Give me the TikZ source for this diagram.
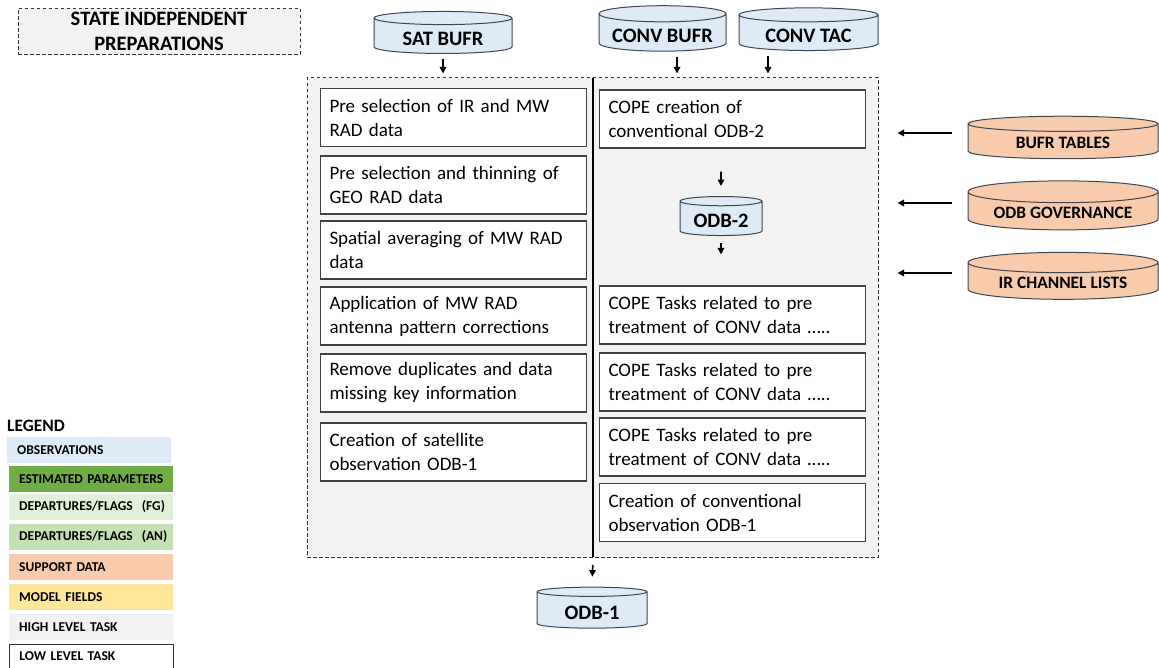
\documentclass[tikz,border=0pt]{standalone}
\usepackage{fontspec}
\setmainfont{Carlito}
\usetikzlibrary{shapes.geometric,arrows.meta}
\definecolor{obsblue}{HTML}{DEEBF7}
\definecolor{estgreen}{HTML}{70AD47}
\definecolor{fggreen}{HTML}{E2F0D9}
\definecolor{angreen}{HTML}{C5E0B4}
\definecolor{supporange}{HTML}{F8CBAD}
\definecolor{modyellow}{HTML}{FFE699}
\definecolor{highgray}{HTML}{F2F2F2}
\definecolor{dbline}{HTML}{3F4650}
\tikzset{
    frame/.style={draw=black!80, fill=highgray, line width=1pt, dash pattern=on 3.5pt off 2.5pt},
    task/.style={draw=black!75, fill=white, line width=1.2pt, minimum width=266pt, minimum height=58pt,
        text width=248pt, inner xsep=9pt, align=left, font=\fontsize{19}{24}\selectfont},
    db/.style={cylinder, shape border rotate=90, aspect=0.15, draw=dbline, line width=1pt,
        text height=16.7pt, text depth=0pt, font=\bfseries\fontsize{20.5}{24}\selectfont},
    support/.style={db, fill=supporange, minimum width=190pt, minimum height=42.5pt,
        text height=12pt, font=\bfseries\fontsize{17.4}{20}\selectfont},
    arr/.style={-{Triangle[length=6.5pt,width=6.5pt]}, line width=1.7pt},
    legbox/.style={anchor=west, minimum width=164pt, minimum height=26pt, text width=144pt,
        inner xsep=10pt, align=left, font=\bfseries\fontsize{13.5}{15}\selectfont},
}
\begin{document}
\begin{tikzpicture}[x=1pt, y=-1pt]
    \useasboundingbox (0, 0) rectangle (1159, 668);
        % headers and frame
        \node[frame, minimum width=282pt, minimum height=46pt, align=center,
            font=\bfseries\fontsize{20.5}{25}\selectfont] (title) at (159, 31.5) {STATE INDEPENDENT\\PREPARATIONS};
        \node[frame, minimum width=571pt, minimum height=479pt] (frame) at (592.5, 317.5) {};
        \coordinate (divtop) at (593, 78);
        \coordinate (divbot) at (593, 557);
        \draw[line width=2.5pt] (divtop) to (divbot);
        % observation inputs
        \node[db, fill=obsblue, minimum width=138pt, minimum height=42pt] (satbufr) at (443, 37) {SAT BUFR};
        \node[db, fill=obsblue, minimum width=127pt, minimum height=42pt] (convbufr) at (662.5, 34) {CONV BUFR};
        \node[db, fill=obsblue, minimum width=139pt, minimum height=42pt] (convtac) at (808.5, 34) {CONV TAC};
        \draw[arr, shorten <=5pt, shorten >=4pt] (satbufr.south) to (satbufr.south |- frame.north);
        \draw[arr, shorten <=5pt, shorten >=4pt] ([xshift=14.5pt]convbufr.south) to ([xshift=14.5pt]convbufr.south |- frame.north);
        \draw[arr, shorten <=5pt, shorten >=4pt] ([xshift=-40.5pt]convtac.south) to ([xshift=-40.5pt]convtac.south |- frame.north);
        % satellite tasks
        \node[task] (sat1) at (453.5, 117.5) {Pre selection of IR and MW\\RAD data};
        \node[task] (sat2) at (453.5, 185) {Pre selection and thinning of\\GEO RAD data};
        \node[task] (sat3) at (453.5, 250) {Spatial averaging of MW RAD\\data};
        \node[task] (sat4) at (453.5, 316) {Application of MW RAD\\antenna pattern corrections};
        \node[task] (sat5) at (453.5, 383) {Remove duplicates and data\\missing key information};
        \node[task] (sat6) at (453.5, 452) {Creation of satellite\\observation ODB-1};
        % conventional tasks
        \node[task] (conv1) at (732.5, 119) {COPE creation of\\conventional ODB-2};
        \node[db, fill=obsblue, minimum width=82pt, minimum height=39pt] (odb2) at (721, 219.5) {ODB-2};
        \node[task] (conv2) at (732.5, 315) {COPE Tasks related to pre\\treatment of CONV data …..};
        \node[task] (conv3) at (732.5, 382) {COPE Tasks related to pre\\treatment of CONV data …..};
        \node[task] (conv4) at (732.5, 447) {COPE Tasks related to pre\\treatment of CONV data …..};
        \node[task] (conv5) at (732.5, 512.5) {Creation of conventional\\observation ODB-1};
        \draw[arr, shorten <=23pt, shorten >=10pt] (conv1.south -| odb2) to (odb2.north);
        \draw[arr, shorten <=7pt, shorten >=31pt] (odb2.south) to (odb2.south |- conv2.north);
        % output
        \node[db, fill=obsblue, minimum width=110pt, minimum height=41pt] (odb1) at (592, 611) {ODB-1};
        \draw[arr, shorten <=8pt, shorten >=10pt] (divbot) to (odb1.north);
        % support data
        \node[support] (tables) at (1063, 142.5) {BUFR TABLES};
        \node[support] (governance) at (1063, 212.5) {ODB GOVERNANCE};
        \node[support] (channels) at (1063, 282.5) {IR CHANNEL LISTS};
        \draw[arr, shorten <=16pt, shorten >=19pt] ([yshift=9.5pt]tables.west) to ([yshift=9.5pt]tables.west -| frame.east);
        \draw[arr, shorten <=16pt, shorten >=19pt] ([yshift=9.5pt]governance.west) to ([yshift=9.5pt]governance.west -| frame.east);
        \draw[arr, shorten <=16pt, shorten >=19pt] ([yshift=9.5pt]channels.west) to ([yshift=9.5pt]channels.west -| frame.east);
        % legend
        \node[anchor=base west, inner sep=0pt, font=\bfseries\fontsize{17.4}{20}\selectfont] (legend) at (7, 431) {LEGEND};
        \node[legbox, fill=obsblue] (legobs) at (7, 450) {OBSERVATIONS};
        \node[legbox, fill=estgreen] (legest) at (9, 479) {ESTIMATED PARAMETERS};
        \node[legbox, fill=fggreen] (legfg) at (9, 507) {DEPARTURES/FLAGS~~(FG)};
        \node[legbox, fill=angreen] (legan) at (9, 536.5) {DEPARTURES/FLAGS~~(AN)};
        \node[legbox, fill=supporange] (legsup) at (9, 567) {SUPPORT DATA};
        \node[legbox, fill=modyellow] (legmod) at (9, 597) {MODEL FIELDS};
        \node[legbox, fill=highgray] (leghigh) at (9, 627) {HIGH LEVEL TASK};
        \node[legbox, draw=black!80, line width=1pt, minimum height=25pt] (leglow) at (9, 656.5) {LOW LEVEL TASK};
    \end{tikzpicture}
\end{document}
